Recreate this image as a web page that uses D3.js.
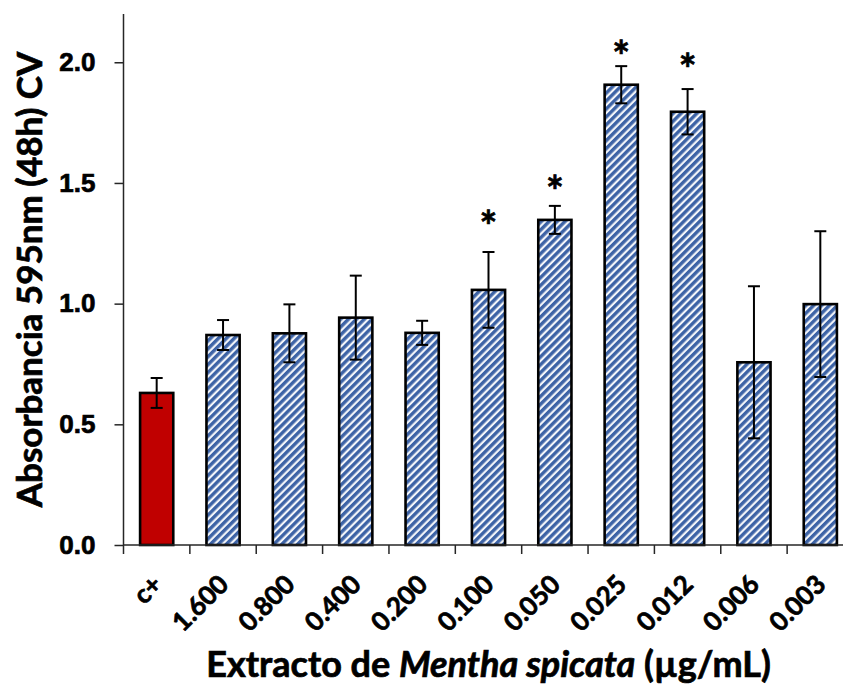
<!DOCTYPE html>
<html>
<head>
<meta charset="utf-8">
<script src="https://cdn.jsdelivr.net/npm/d3@7"></script>
<style>
  html, body { margin: 0; padding: 0; background: #fff; }
  svg { display: block; font-family: Lato, "Open Sans", sans-serif; font-weight: bold; }
  .heavy { stroke: #000; stroke-width: 0.7px; paint-order: stroke; }
</style>
</head>
<body>
<svg id="chart"></svg>
<script>
// categories (extract concentration, µg/mL) and measured absorbance
const categories = ["c+", "1.600", "0.800", "0.400", "0.200", "0.100", "0.050", "0.025", "0.012", "0.006", "0.003"];
const means  = [0.63, 0.870, 0.877, 0.942, 0.879, 1.057, 1.347, 1.907, 1.795, 0.757, 0.998];
const errors = [0.062, 0.062, 0.120, 0.174, 0.050, 0.157, 0.058, 0.077, 0.094, 0.315, 0.302];
// significance marks: category and the value height where the asterisk sits
const sigCats = ["0.100", "0.050", "0.025", "0.012"];
const sigY    = [1.35, 1.495, 2.055, 2.0];
const yTicks  = [0.0, 0.5, 1.0, 1.5, 2.0];

const width = 843, height = 686;
const marginTop = 14, marginLeft = 123.5, plotRight = 853.5, plotBottom = 545;

const data = categories.map((c, i) => ({cat: c, mean: means[i], err: errors[i]}));

const svg = d3.select("#chart")
  .attr("width", width)
  .attr("height", height)
  .attr("viewBox", [0, 0, width, height]);

// diagonal stripe fill
const defs = svg.append("defs");
const pat = defs.append("pattern")
  .attr("id", "stripes")
  .attr("patternUnits", "userSpaceOnUse")
  .attr("width", 5.6).attr("height", 5.6)
  .attr("patternTransform", "rotate(45)");
pat.append("rect").attr("width", 5.6).attr("height", 5.6).attr("fill", "#f4f6fa");
pat.append("rect").attr("width", 3.4).attr("height", 5.6).attr("fill", "#3d63a6");

const x = d3.scaleBand(categories, [marginLeft, plotRight])
  .paddingInner(0.5).paddingOuter(0.25);
const y = d3.scaleLinear([0, 2.2], [plotBottom, marginTop]);

// bars
svg.append("g")
  .selectAll("rect")
  .data(data)
  .join("rect")
    .attr("x", d => x(d.cat))
    .attr("y", d => y(d.mean))
    .attr("width", x.bandwidth())
    .attr("height", d => y(0) - y(d.mean))
    .attr("fill", d => d.cat === "c+" ? "#c00000" : "url(#stripes)")
    .attr("stroke", "#000")
    .attr("stroke-width", 2.6);

// error bars
const eb = svg.append("g")
  .attr("stroke", "#000")
  .attr("stroke-width", 2)
  .selectAll("g")
  .data(data)
  .join("g")
    .attr("transform", d => `translate(${x(d.cat) + x.bandwidth() / 2},0)`);
eb.append("line")
  .attr("y1", d => y(d.mean + d.err))
  .attr("y2", d => y(d.mean - d.err));
eb.append("line")
  .attr("x1", -6).attr("x2", 6)
  .attr("y1", d => y(d.mean + d.err)).attr("y2", d => y(d.mean + d.err));
eb.append("line")
  .attr("x1", -6).attr("x2", 6)
  .attr("y1", d => y(d.mean - d.err)).attr("y2", d => y(d.mean - d.err));

// asterisks
svg.append("g")
  .attr("font-size", 42)
  .attr("text-anchor", "middle")
  .attr("class", "heavy")
  .selectAll("text")
  .data(sigCats.map((c, i) => ({cat: c, v: sigY[i]})))
  .join("text")
    .attr("x", d => x(d.cat) + x.bandwidth() / 2)
    .attr("y", d => y(d.v) + 23)
    .text("*");

// y axis
const yAxis = svg.append("g")
  .attr("transform", `translate(${marginLeft},0)`)
  .call(d3.axisLeft(y).tickValues(yTicks).tickFormat(d3.format(".1f")).tickSize(9).tickPadding(19));
yAxis.select(".domain").attr("stroke", "#262626").attr("stroke-width", 1.5)
  .attr("d", `M0,${marginTop}V${plotBottom}`);
yAxis.selectAll(".tick line").attr("stroke", "#262626").attr("stroke-width", 1.5);
yAxis.selectAll(".tick text").attr("font-size", 26).attr("fill", "#000")
  .attr("font-family", null).attr("class", "heavy");

// x axis: line plus ticks on band boundaries
const step = x.step();
const bounds = categories.map(c => x(c) - step * 0.25);
const xAxis = svg.append("g");
xAxis.append("line")
  .attr("x1", marginLeft).attr("x2", plotRight)
  .attr("y1", plotBottom).attr("y2", plotBottom)
  .attr("stroke", "#262626").attr("stroke-width", 1.5);
xAxis.selectAll(".xt")
  .data(bounds)
  .join("line")
    .attr("class", "xt")
    .attr("x1", d => d).attr("x2", d => d)
    .attr("y1", plotBottom).attr("y2", plotBottom + 9)
    .attr("stroke", "#262626").attr("stroke-width", 1.5);
xAxis.selectAll(".xl")
  .data(categories)
  .join("text")
    .attr("class", "xl heavy")
    .attr("font-size", 26)
    .attr("text-anchor", "end")
    .attr("transform", d => `translate(${x(d) + x.bandwidth() / 2 + 7},586) rotate(-45)`)
    .text(d => d);

// axis titles
svg.append("text")
  .attr("class", "heavy")
  .attr("font-size", 35)
  .attr("text-anchor", "middle")
  .attr("transform", `translate(42,${(marginTop + plotBottom) / 2}) rotate(-90)`)
  .text("Absorbancia 595nm (48h) CV");

const xt = svg.append("text")
  .attr("class", "heavy")
  .attr("font-size", 36)
  .attr("text-anchor", "middle")
  .attr("x", (marginLeft + plotRight) / 2)
  .attr("y", 677);
xt.append("tspan").text("Extracto de ");
xt.append("tspan").attr("font-style", "italic").text("Mentha spicata");
xt.append("tspan").text(" (µg/mL)");
</script>
</body>
</html>
